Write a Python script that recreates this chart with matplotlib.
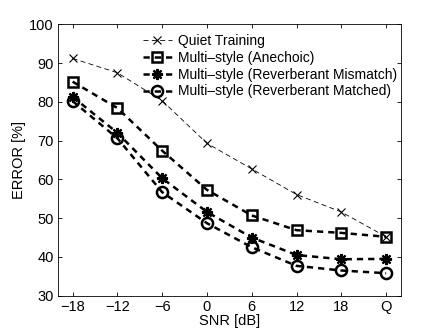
import matplotlib
matplotlib.use("Agg")
import matplotlib.pyplot as plt

plt.rcParams['font.family'] = ['Liberation Sans', 'DejaVu Sans']

snr = [-18, -12, -6, 0, 6, 12, 18, 24]
tick_labels = ['\u221218', '\u221212', '\u22126', '0', '6', '12', '18', 'Q']
quiet = [91.2, 87.5, 80.3, 69.3, 62.7, 56.1, 51.6, 45.2]
anechoic = [85.2, 78.4, 67.4, 57.3, 50.7, 46.9, 46.2, 45.2]
mismatch = [81.3, 72.0, 60.3, 51.6, 45.0, 40.5, 39.4, 39.5]
matched = [80.2, 70.6, 56.7, 48.7, 42.5, 37.7, 36.5, 35.8]

fig = plt.figure(figsize=(4.43, 3.33), dpi=100)
ax = fig.add_axes([57.7/443, 1 - 295.7/333, (401 - 57.7)/443, (295.7 - 24.3)/333])

ax.plot(snr, quiet, color='black', lw=0.6, ls=(0, (6, 4)), marker='x', ms=6, mew=0.8,
        label='Quiet Training')
ax.plot(snr, anechoic, color='black', lw=1.8, ls=(0, (2.5, 2)), marker='s', ms=6.5, mew=1.8,
        mfc='none', label='Multi\u2013style (Anechoic)')
ax.plot(snr, mismatch, color='black', lw=1.8, ls=(0, (2.5, 2)), marker=(8, 2, 0), ms=8, mew=1.6,
        label='Multi\u2013style (Reverberant Mismatch)')
ax.plot(snr, matched, color='black', lw=1.8, ls=(0, (2.5, 2)), marker='o', ms=8, mew=1.8,
        mfc='none', label='Multi\u2013style (Reverberant Matched)')

ax.set_xlim(-20, 26)
ax.set_ylim(30, 100)
ax.set_xticks(snr)
ax.set_xticklabels(tick_labels)
ax.set_yticks(range(30, 101, 10))
ax.tick_params(direction='in', top=True, right=True, labelsize=10.5, length=3, width=0.6, pad=3)
for s in ax.spines.values():
    s.set_linewidth(0.6)
ax.set_xlabel('SNR [dB]', fontsize=10.5, labelpad=0)
ax.set_ylabel('ERROR [%]', fontsize=10.5, labelpad=2)

ax.legend(loc='upper left', bbox_to_anchor=(0.248, 0.964), frameon=False, fontsize=10,
          handlelength=2.1, handletextpad=0.45, labelspacing=0.2, borderaxespad=0,
          borderpad=0)

fig.savefig('out.png', dpi=100)
